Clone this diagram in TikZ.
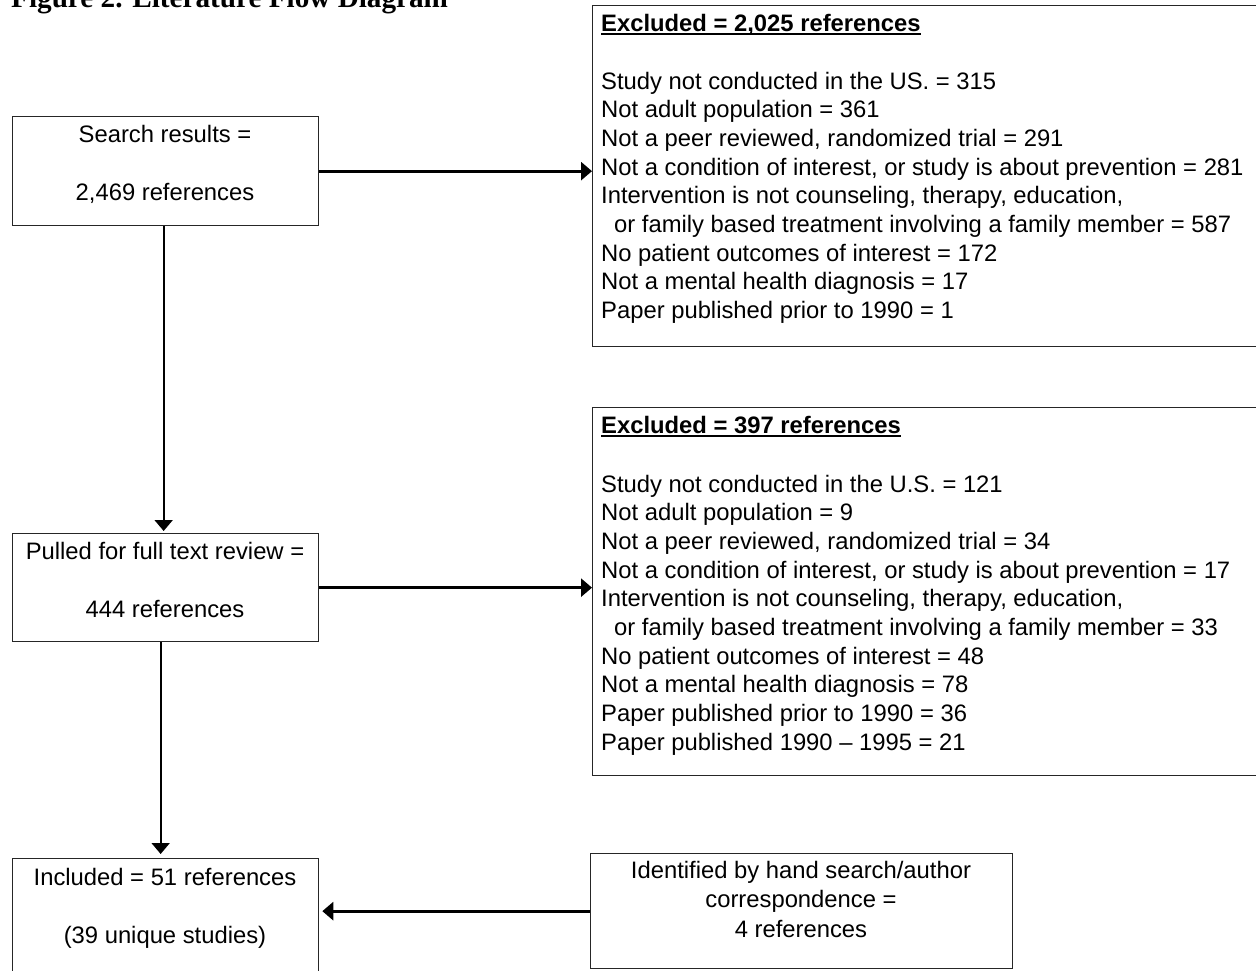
\documentclass[tikz,border=0pt]{standalone}
\usepackage{fontspec}
\setmainfont{Liberation Sans}
\newfontfamily\titlefont{Liberation Serif}
\usetikzlibrary{arrows.meta}
\begin{document}
\begin{tikzpicture}[x=1pt,y=-1pt,
  box/.style={draw=black!85, line width=1.3pt, inner sep=0pt, anchor=north west},
  txt/.style={inner sep=0pt, font=\fontsize{23.8}{28.7}\selectfont},
  ltxt/.style={txt, anchor=base west},
  ctxt/.style={txt, anchor=base},
  btxt/.style={ltxt, font=\fontsize{23.8}{28.7}\selectfont\bfseries},
  uline/.style={line width=1.6pt},
  arr/.style={-{Triangle[length=11pt,width=18pt]}, line width=2pt},
  harr/.style={arr, line width=3pt}]
\useasboundingbox (0,0) rectangle (1256,970);
\clip (0,0) rectangle (1256,970);

% title (cut off at the top in the reference)
\node[anchor=base west, inner sep=0pt, font=\titlefont\bfseries\fontsize{29.2}{35}\selectfont] (title) at (11,7) {Figure 2. Literature Flow Diagram};

% boxes
\node[box, minimum width=306pt, minimum height=109pt] (sr) at (12,116) {};
\node[box, minimum width=306pt, minimum height=108pt] (pr) at (12,533) {};
\node[box, minimum width=306pt, minimum height=142pt] (inc) at (12,858) {};
\node[box, minimum width=422pt, minimum height=115pt] (id) at (590,853) {};
\node[box, minimum width=700pt, minimum height=341pt] (ex1) at (592,5) {};
\node[box, minimum width=700pt, minimum height=368pt] (ex2) at (592,407) {};

% texts of the small boxes
\node[ctxt] (sr1) at (165,142) {Search results =};
\node[ctxt] (sr2) at (165,200) {2,469 references};
\node[ctxt] (pr1) at (165,559) {Pulled for full text review =};
\node[ctxt] (pr2) at (165,617) {444 references};
\node[ctxt] (in1) at (165,885) {Included = 51 references};
\node[ctxt] (in2) at (165,943) {(39 unique studies)};
\node[ctxt] (id1) at (801,878) {Identified by hand search/author};
\node[ctxt] (id2) at (801,907.5) {correspondence =};
\node[ctxt] (id3) at (801,937) {4 references};

% first exclusion box
\node[btxt] (e1t) at (601,31) {Excluded = 2,025 references};
\draw[uline] ([yshift=-3pt]e1t.base west) -- ([yshift=-3pt]e1t.base east);
\foreach \t [count=\i] in {
  {Study not conducted in the US. = 315},
  {Not adult population = 361},
  {Not a peer reviewed, randomized trial = 291},
  {Not a condition of interest, or study is about prevention = 281},
  {Intervention is not counseling, therapy, education,},
  {\hspace*{13pt}or family based treatment involving a family member = 587},
  {No patient outcomes of interest = 172},
  {Not a mental health diagnosis = 17},
  {Paper published prior to 1990 = 1}}
  \node[ltxt] (e1l\i) at (601,{89+28.7*(\i-1)}) {\t};

% second exclusion box
\node[btxt] (e2t) at (601,433) {Excluded = 397 references};
\draw[uline] ([yshift=-3pt]e2t.base west) -- ([yshift=-3pt]e2t.base east);
\foreach \t [count=\i] in {
  {Study not conducted in the U.S. = 121},
  {Not adult population = 9},
  {Not a peer reviewed, randomized trial = 34},
  {Not a condition of interest, or study is about prevention = 17},
  {Intervention is not counseling, therapy, education,},
  {\hspace*{13pt}or family based treatment involving a family member = 33},
  {No patient outcomes of interest = 48},
  {Not a mental health diagnosis = 78},
  {Paper published prior to 1990 = 36},
  {Paper published 1990 – 1995 = 21}}
  \node[ltxt] (e2l\i) at (601,{492+28.7*(\i-1)}) {\t};

% connectors
\draw[harr] (sr.east) -- (sr.east -| ex1.west);
\draw[harr] (pr.east) -- (pr.east -| ex2.west);
\draw[arr, shorten >=2pt] ([xshift=-2pt]sr.south) -- ([xshift=-2pt]pr.north);
\draw[arr, shorten >=4pt] ([xshift=-5pt]pr.south) -- ([xshift=-5pt]inc.north);
\draw[harr, shorten >=3pt] (id.west) -- (id.west -| inc.east);
\end{tikzpicture}
\end{document}
